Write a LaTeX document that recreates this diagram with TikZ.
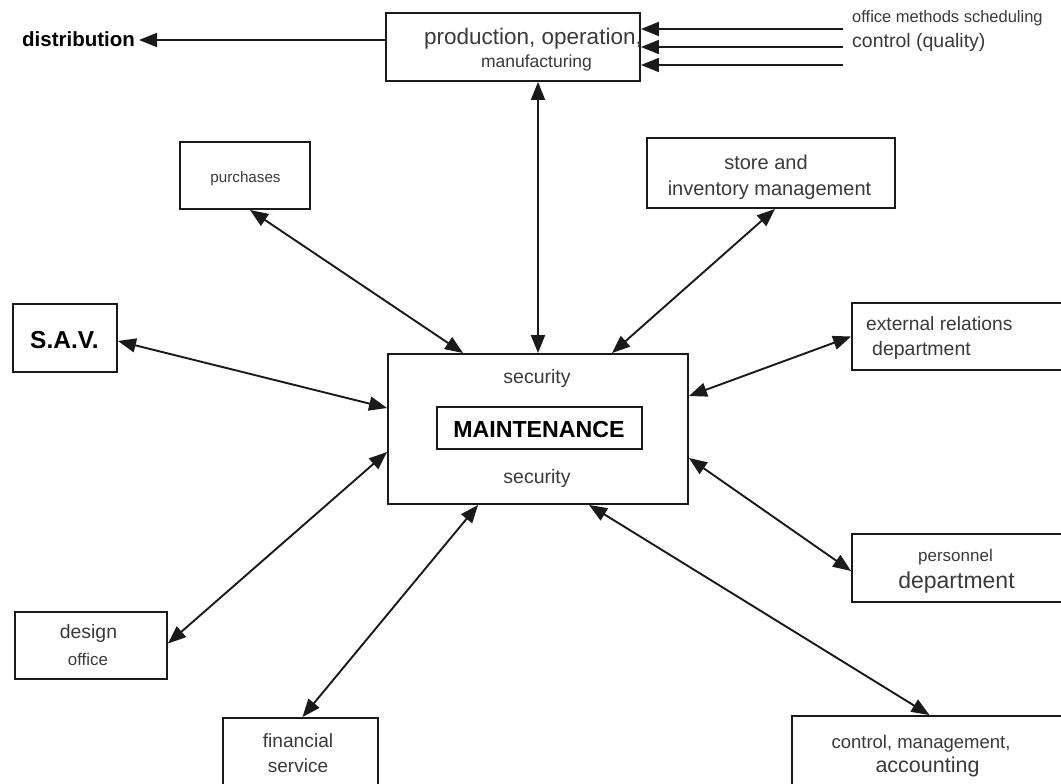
\documentclass[tikz,border=0pt]{standalone}
\usepackage{fontspec}
\setmainfont{Liberation Sans}
\usetikzlibrary{arrows.meta,calc}
\definecolor{ink}{HTML}{1A1A1A}
\definecolor{txt}{HTML}{3A3A3A}
\newcommand{\fs}[1]{\fontsize{#1}{#1}\selectfont}
\tikzset{
  box/.style={draw=ink, line width=1.9pt, fill=white, inner sep=0pt},
  lbl/.style={text=txt, inner sep=0pt, anchor=base},
  bold/.style={text=black, inner sep=0pt, anchor=base},
  link/.style={draw=ink, line width=1.9pt, {Triangle[length=18pt,width=14pt]}-{Triangle[length=18pt,width=14pt]}},
  feed/.style={draw=ink, line width=1.9pt, -{Triangle[length=18pt,width=14pt]}},
}
\begin{document}
\begin{tikzpicture}[x=1pt,y=-1pt]
\useasboundingbox (0,0) rectangle (1061,784);
\fill[white] (0,0) rectangle (1061,784);
\clip (0,0) rectangle (1061,784);

% boxes
\node[box, minimum width=254pt, minimum height=68pt] (prod) at (513,47) {};
\node[box, minimum width=130pt, minimum height=67pt] (purch) at (245,175.5) {};
\node[box, minimum width=248pt, minimum height=70pt] (store) at (771,173) {};
\node[box, minimum width=104pt, minimum height=68pt] (sav) at (65,338) {};
\node[box, minimum width=300pt, minimum height=150pt] (maint) at (538,429) {};
\node[box, line width=2.7pt, minimum width=205pt, minimum height=42pt] (core) at (539.5,428) {};
\node[box, minimum width=223pt, minimum height=67pt] (ext) at (963.5,336.5) {};
\node[box, minimum width=223pt, minimum height=68pt] (pers) at (963.5,568) {};
\node[box, minimum width=152pt, minimum height=67pt] (design) at (91,645.5) {};
\node[box, minimum width=155pt, minimum height=82pt] (fin) at (300.5,759) {};
\node[box, minimum width=283pt, minimum height=84pt] (ctrl) at (933.5,758) {};

% texts
\node[lbl, font=\fs{22.5}] (prodA) at (533,45) {production, operation,};
\node[lbl, font=\fs{17.5}] (prodB) at (536.5,67) {manufacturing};
\node[bold, font=\fs{20.5}\bfseries, anchor=base west] (dist) at (22,47) {distribution};
\node[lbl, font=\fs{16.5}, anchor=base west] (omsA) at (852,23) {office methods scheduling};
\node[lbl, font=\fs{19.5}, anchor=base west] (omsB) at (852,48) {control (quality)};
\node[lbl, font=\fs{15.2}] (purchT) at (245.5,182) {purchases};
\node[lbl, font=\fs{20}] (storeA) at (766,169) {store and};
\node[lbl, font=\fs{20}] (storeB) at (769.5,195) {inventory management};
\node[bold, font=\fs{24.5}\bfseries] (savT) at (64.5,348) {S.A.V.};
\node[lbl, font=\fs{19.5}] (secA) at (537,383) {security};
\node[lbl, font=\fs{19.5}] (secB) at (537,483) {security};
\node[bold, font=\fs{23.2}\bfseries] (maintT) at (539,437) {MAINTENANCE};
\node[lbl, font=\fs{19.2}, anchor=base west] (extA) at (866,330) {external relations};
\node[lbl, font=\fs{19.5}, anchor=base west] (extB) at (872,355) {department};
\node[lbl, font=\fs{17}] (persA) at (955.5,561) {personnel};
\node[lbl, font=\fs{23}] (persB) at (956.5,588) {department};
\node[lbl, font=\fs{19.4}] (designA) at (88.5,638) {design};
\node[lbl, font=\fs{16.9}] (designB) at (88,665) {office};
\node[lbl, font=\fs{19.2}] (finA) at (298,747) {financial};
\node[lbl, font=\fs{19}] (finB) at (298,772) {service};
\node[lbl, font=\fs{18.5}] (ctrlA) at (921,748) {control, management,};
\node[lbl, font=\fs{21.5}] (ctrlB) at (927.5,772) {accounting};

% outgoing flow and incoming feeds of production
\draw[feed] ($(prod.west)+(0,-7)$) -- ($(prod.west)+(-246,-7)$);
\coordinate (feedA) at (843,29);
\coordinate (feedB) at (843,47);
\coordinate (feedC) at (843,65);
\draw[feed] (feedA) -- ($(prod.east)+(0,-18)$);
\draw[feed] (feedB) -- (prod.east);
\draw[feed] (feedC) -- ($(prod.east)+(0,18)$);

% two-way links with maintenance
\draw[link] (prod.south -| maint.north) -- (maint.north);
\draw[link] ($(purch.south)+(5,0)$) -- ($(maint.north west)+(76,0)$);
\draw[link] ($(store.south)+(4,0)$) -- ($(maint.north west)+(225,0)$);
\draw[link] ($(sav.east)+(0,3)$) -- ($(maint.west)+(0,-21)$);
\draw[link] (ext.west) -- ($(maint.east)+(0,-33)$);
\draw[link] ($(pers.west)+(0,3)$) -- ($(maint.east)+(0,29)$);
\draw[link] ($(design.east)+(0,-2)$) -- ($(maint.west)+(0,23)$);
\draw[link] ($(fin.north)+(2,0)$) -- ($(maint.south west)+(91,0)$);
\draw[link] ($(ctrl.north)+(-4,0)$) -- ($(maint.south west)+(202,0)$);
\end{tikzpicture}
\end{document}
